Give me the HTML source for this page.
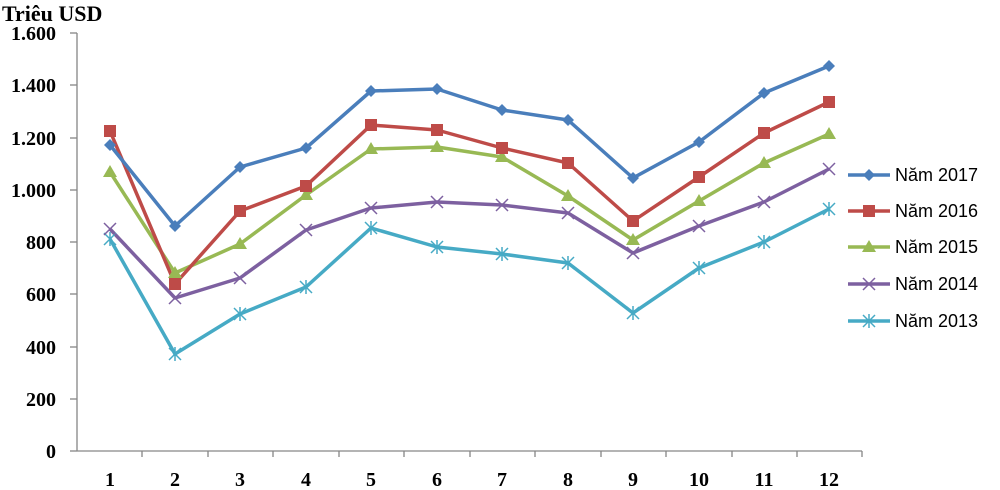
<!DOCTYPE html>
<html><head><meta charset="utf-8"><style>
body{margin:0;background:#fff}
svg{display:block}
.t{font-family:"Liberation Serif",serif;font-weight:bold;font-size:20px;fill:#000}
.l{font-family:"Liberation Sans",sans-serif;font-size:18px;fill:#000}
</style></head><body>
<svg width="1000" height="490" viewBox="0 0 1000 490">
<text x="2" y="21" class="t" style="font-size:22px">Triêu USD</text>
<g stroke="#868686" stroke-width="1.3" fill="none">
<line x1="77" y1="33" x2="77" y2="451"/>
<line x1="77" y1="451" x2="862" y2="451"/>
<line x1="70" y1="33" x2="77" y2="33"/><line x1="70" y1="85" x2="77" y2="85"/><line x1="70" y1="138" x2="77" y2="138"/><line x1="70" y1="190" x2="77" y2="190"/><line x1="70" y1="242" x2="77" y2="242"/><line x1="70" y1="294" x2="77" y2="294"/><line x1="70" y1="347" x2="77" y2="347"/><line x1="70" y1="399" x2="77" y2="399"/><line x1="70" y1="451" x2="77" y2="451"/>
<line x1="142" y1="451" x2="142" y2="457"/><line x1="208" y1="451" x2="208" y2="457"/><line x1="273" y1="451" x2="273" y2="457"/><line x1="339" y1="451" x2="339" y2="457"/><line x1="404" y1="451" x2="404" y2="457"/><line x1="470" y1="451" x2="470" y2="457"/><line x1="535" y1="451" x2="535" y2="457"/><line x1="601" y1="451" x2="601" y2="457"/><line x1="666" y1="451" x2="666" y2="457"/><line x1="732" y1="451" x2="732" y2="457"/><line x1="797" y1="451" x2="797" y2="457"/><line x1="862" y1="451" x2="862" y2="457"/>
</g>
<g class="t" text-anchor="end">
<text x="56" y="40">1.600</text><text x="56" y="92">1.400</text><text x="56" y="145">1.200</text><text x="56" y="197">1.000</text><text x="56" y="249">800</text><text x="56" y="301">600</text><text x="56" y="354">400</text><text x="56" y="406">200</text><text x="56" y="458">0</text>
</g>
<g class="t" text-anchor="middle">
<text x="110" y="486">1</text><text x="175" y="486">2</text><text x="240" y="486">3</text><text x="306" y="486">4</text><text x="371" y="486">5</text><text x="437" y="486">6</text><text x="502" y="486">7</text><text x="568" y="486">8</text><text x="633" y="486">9</text><text x="699" y="486">10</text><text x="764" y="486">11</text><text x="829" y="486">12</text>
</g>
<defs>
<path id="d" d="M0,-6L6,0L0,6L-6,0Z" fill="#4A7EBB"/>
<rect id="s" x="-6" y="-6" width="12" height="12" fill="#BE4B48"/>
<path id="tr" d="M0,-7L7,5L-7,5Z" fill="#98B954"/>
<path id="x" d="M-6,-6L6,6M-6,6L6,-6" stroke="#7D60A0" stroke-width="1.5"/>
<path id="st" d="M-6,-6L6,6M-6,6L6,-6M0,-7L0,7" stroke="#46AAC5" stroke-width="1.5"/>
</defs>
<g fill="none" stroke-width="3.5" stroke-linejoin="round">
<polyline stroke="#46AAC5" points="110,239 175,354 240,314 306,287 371,228 437,247 502,254 568,263 633,313 699,268 764,242 829,209"/>
<polyline stroke="#7D60A0" points="110,229 175,298 240,278 306,230 371,208 437,202 502,205 568,213 633,253 699,226 764,202 829,169"/>
<polyline stroke="#98B954" points="110,172 175,273 240,244 306,195 371,149 437,147 502,157 568,196 633,240 699,201 764,163 829,134"/>
<polyline stroke="#BE4B48" points="110,131 175,284 240,211 306,186 371,125 437,130 502,148 568,163 633,221 699,177 764,133 829,102"/>
<polyline stroke="#4A7EBB" points="110,145 175,226 240,167 306,148 371,91 437,89 502,110 568,120 633,178 699,142 764,93 829,66"/>
</g>
<g>
<use href="#st" x="110" y="239"/><use href="#st" x="175" y="354"/><use href="#st" x="240" y="314"/><use href="#st" x="306" y="287"/><use href="#st" x="371" y="228"/><use href="#st" x="437" y="247"/><use href="#st" x="502" y="254"/><use href="#st" x="568" y="263"/><use href="#st" x="633" y="313"/><use href="#st" x="699" y="268"/><use href="#st" x="764" y="242"/><use href="#st" x="829" y="209"/>
<use href="#x" x="110" y="229"/><use href="#x" x="175" y="298"/><use href="#x" x="240" y="278"/><use href="#x" x="306" y="230"/><use href="#x" x="371" y="208"/><use href="#x" x="437" y="202"/><use href="#x" x="502" y="205"/><use href="#x" x="568" y="213"/><use href="#x" x="633" y="253"/><use href="#x" x="699" y="226"/><use href="#x" x="764" y="202"/><use href="#x" x="829" y="169"/>
<use href="#tr" x="110" y="172"/><use href="#tr" x="175" y="273"/><use href="#tr" x="240" y="244"/><use href="#tr" x="306" y="195"/><use href="#tr" x="371" y="149"/><use href="#tr" x="437" y="147"/><use href="#tr" x="502" y="157"/><use href="#tr" x="568" y="196"/><use href="#tr" x="633" y="240"/><use href="#tr" x="699" y="201"/><use href="#tr" x="764" y="163"/><use href="#tr" x="829" y="134"/>
<use href="#s" x="110" y="131"/><use href="#s" x="175" y="284"/><use href="#s" x="240" y="211"/><use href="#s" x="306" y="186"/><use href="#s" x="371" y="125"/><use href="#s" x="437" y="130"/><use href="#s" x="502" y="148"/><use href="#s" x="568" y="163"/><use href="#s" x="633" y="221"/><use href="#s" x="699" y="177"/><use href="#s" x="764" y="133"/><use href="#s" x="829" y="102"/>
<use href="#d" x="110" y="145"/><use href="#d" x="175" y="226"/><use href="#d" x="240" y="167"/><use href="#d" x="306" y="148"/><use href="#d" x="371" y="91"/><use href="#d" x="437" y="89"/><use href="#d" x="502" y="110"/><use href="#d" x="568" y="120"/><use href="#d" x="633" y="178"/><use href="#d" x="699" y="142"/><use href="#d" x="764" y="93"/><use href="#d" x="829" y="66"/>
</g>
<g stroke-width="3.5">
<line x1="848" y1="175" x2="890" y2="175" stroke="#4A7EBB"/><use href="#d" x="869" y="175"/>
<line x1="848" y1="211" x2="890" y2="211" stroke="#BE4B48"/><use href="#s" x="869" y="211"/>
<line x1="848" y1="247" x2="890" y2="247" stroke="#98B954"/><use href="#tr" x="869" y="247"/>
<line x1="848" y1="284" x2="890" y2="284" stroke="#7D60A0"/><use href="#x" x="869" y="284"/>
<line x1="848" y1="321" x2="890" y2="321" stroke="#46AAC5"/><use href="#st" x="869" y="321"/>
</g>
<g class="l">
<text x="895" y="181">Năm 2017</text><text x="895" y="217">Năm 2016</text><text x="895" y="253">Năm 2015</text><text x="895" y="290">Năm 2014</text><text x="895" y="327">Năm 2013</text>
</g>
</svg>
</body></html>
